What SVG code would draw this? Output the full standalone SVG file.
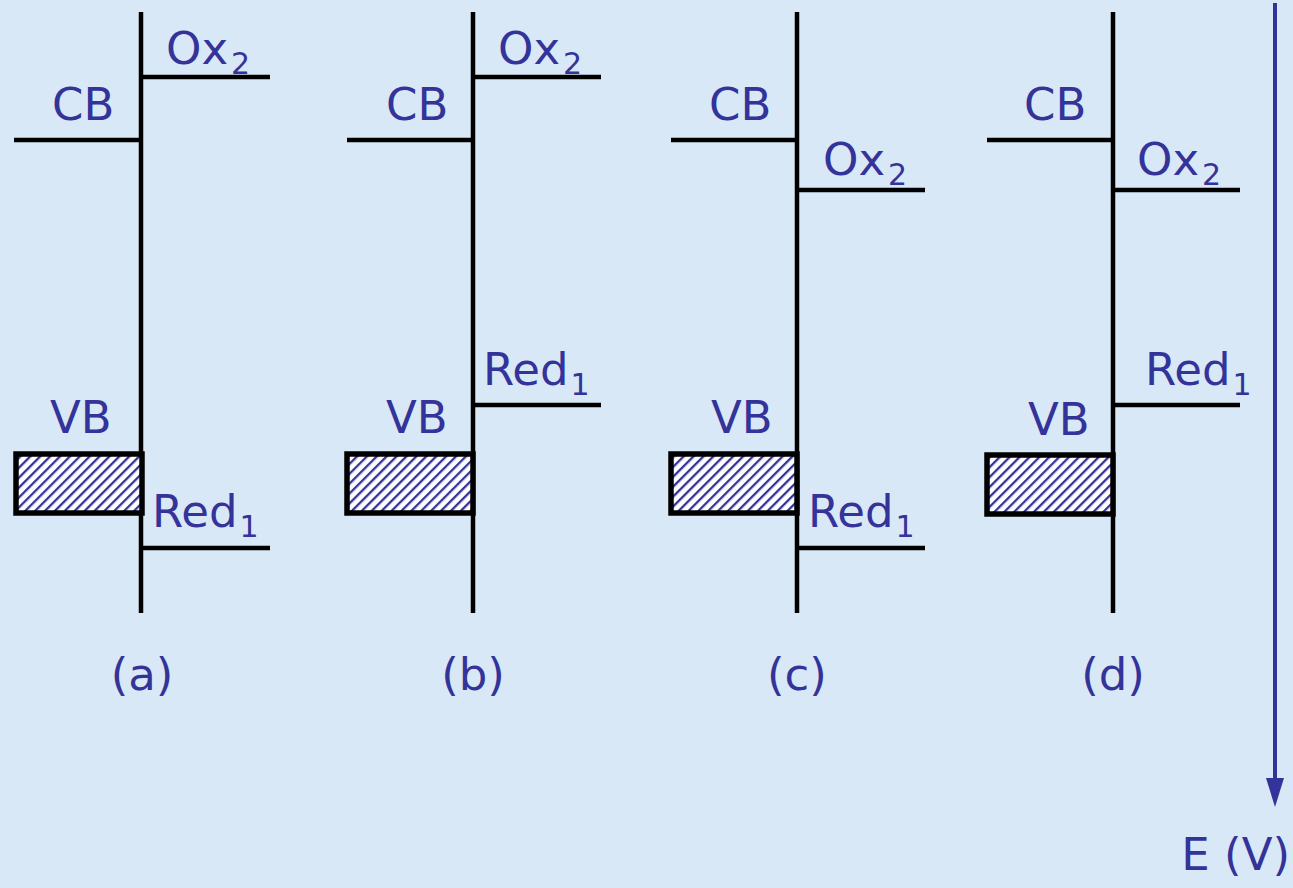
<svg xmlns="http://www.w3.org/2000/svg" width="1293" height="888" viewBox="0 0 1293 888">
<defs>
<pattern id="hatch" patternUnits="userSpaceOnUse" width="7" height="7" patternTransform="rotate(45)">
<rect width="7" height="7" fill="#ffffff"/>
<rect x="0" y="0" width="2.3" height="7" fill="#333399"/>
</pattern>
</defs>
<style>
.ln{stroke:#000;stroke-width:4.5;fill:none}
.box{stroke:#000;stroke-width:5.5;fill:url(#hatch)}
.t{font-family:"DejaVu Sans","Open Sans",sans-serif;font-size:45px;fill:#333399}
.s{font-size:30px}
</style>
<rect width="1293" height="888" fill="#d9e8f6"/>
<g id="panel-a">
<line class="ln" x1="141" y1="12" x2="141" y2="613"/>
<line class="ln" x1="14" y1="140" x2="141" y2="140"/>
<line class="ln" x1="141" y1="77" x2="270" y2="77"/>
<line class="ln" x1="141" y1="548" x2="270" y2="548"/>
<rect class="box" x="16" y="454" width="126" height="59"/>
<text class="t" x="52" y="120">CB</text>
<text class="t" x="166" y="64">Ox<tspan class="s" dx="3" dy="10">2</tspan></text>
<text class="t" x="50" y="433">VB</text>
<text class="t" x="152" y="527">Red<tspan class="s" dx="2" dy="10">1</tspan></text>
<text class="t" x="142" y="690" text-anchor="middle">(a)</text>
</g>
<g id="panel-b">
<line class="ln" x1="473" y1="12" x2="473" y2="613"/>
<line class="ln" x1="347" y1="140" x2="473" y2="140"/>
<line class="ln" x1="473" y1="77" x2="601" y2="77"/>
<line class="ln" x1="473" y1="405" x2="601" y2="405"/>
<rect class="box" x="347" y="454" width="126" height="59"/>
<text class="t" x="386" y="120">CB</text>
<text class="t" x="498" y="64">Ox<tspan class="s" dx="3" dy="10">2</tspan></text>
<text class="t" x="386" y="433">VB</text>
<text class="t" x="483" y="385">Red<tspan class="s" dx="2" dy="10">1</tspan></text>
<text class="t" x="473" y="690" text-anchor="middle">(b)</text>
</g>
<g id="panel-c">
<line class="ln" x1="797" y1="12" x2="797" y2="613"/>
<line class="ln" x1="671" y1="140" x2="797" y2="140"/>
<line class="ln" x1="797" y1="190" x2="925" y2="190"/>
<line class="ln" x1="797" y1="548" x2="925" y2="548"/>
<rect class="box" x="671" y="454" width="126" height="59"/>
<text class="t" x="709" y="120">CB</text>
<text class="t" x="823" y="175">Ox<tspan class="s" dx="3" dy="10">2</tspan></text>
<text class="t" x="711" y="433">VB</text>
<text class="t" x="808" y="527">Red<tspan class="s" dx="2" dy="10">1</tspan></text>
<text class="t" x="797" y="690" text-anchor="middle">(c)</text>
</g>
<g id="panel-d">
<line class="ln" x1="1113" y1="12" x2="1113" y2="613"/>
<line class="ln" x1="987" y1="140" x2="1113" y2="140"/>
<line class="ln" x1="1113" y1="190" x2="1240" y2="190"/>
<line class="ln" x1="1113" y1="405" x2="1240" y2="405"/>
<rect class="box" x="987" y="455" width="126" height="59"/>
<text class="t" x="1024" y="120">CB</text>
<text class="t" x="1137" y="175">Ox<tspan class="s" dx="3" dy="10">2</tspan></text>
<text class="t" x="1028" y="435">VB</text>
<text class="t" x="1145" y="385">Red<tspan class="s" dx="2" dy="10">1</tspan></text>
<text class="t" x="1113" y="690" text-anchor="middle">(d)</text>
</g>
<g id="connectors">
<line x1="1275" y1="3" x2="1275" y2="782" stroke="#333399" stroke-width="4"/>
<polygon points="1266,778 1284,778 1275,807" fill="#333399"/>
</g>
<text class="t" x="1290" y="870" text-anchor="end">E (V)</text>
</svg>
